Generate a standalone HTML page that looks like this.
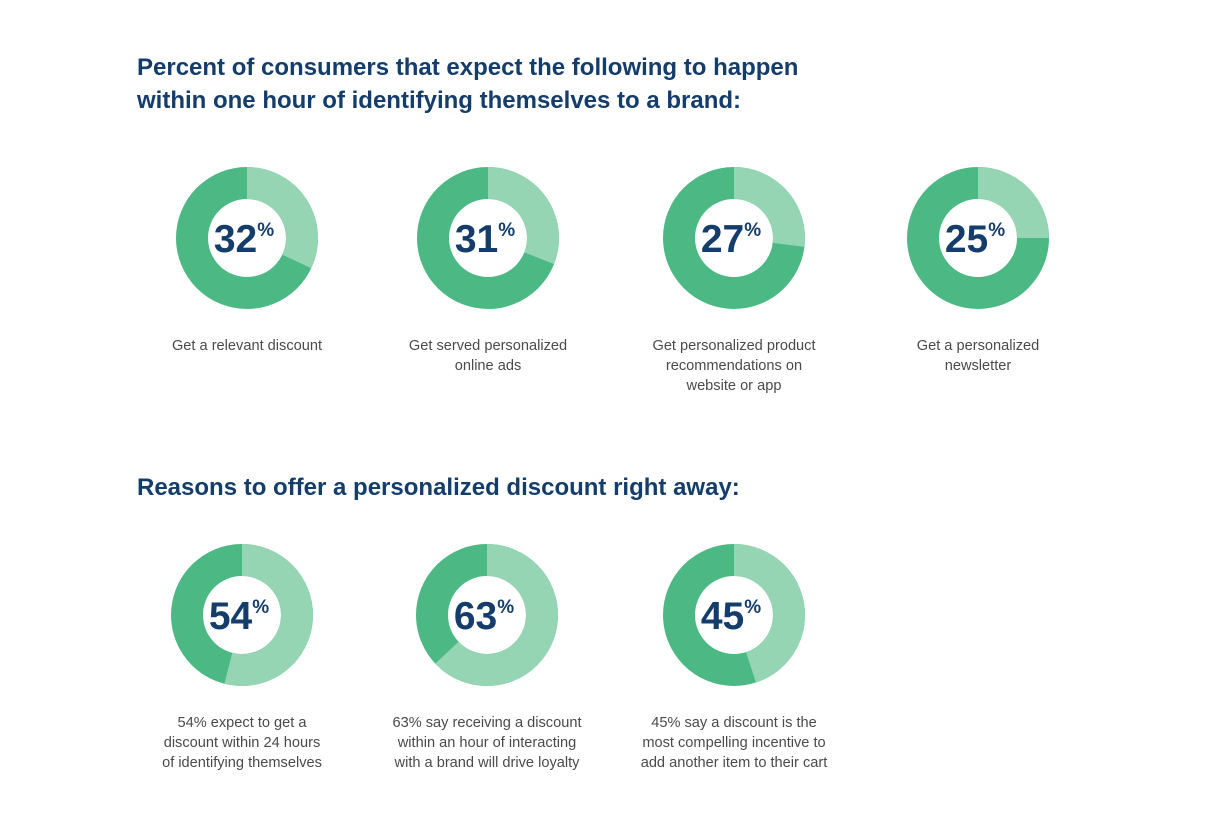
<!DOCTYPE html>
<html><head><meta charset="utf-8"><style>
body{margin:0;width:1222px;height:835px;background:#fff;font-family:"Liberation Sans",sans-serif;position:relative;overflow:hidden}
.t{position:absolute;left:137px;color:#143d6b;font-weight:bold;font-size:24px;line-height:33px;margin:0}
.lab{position:absolute;width:240px;text-align:center;color:#4a4a4a;font-size:14.6px;line-height:20px}
</style></head><body>
<h1 class="t" style="top:51px">Percent of consumers that expect the following to happen<br>within one hour of identifying themselves to a brand:</h1>
<h2 class="t" style="top:471px">Reasons to offer a personalized discount right away:</h2>
<svg id="s" width="1222" height="835" style="position:absolute;left:0;top:0"></svg>
<script>
const values1=[32,31,27,25];
const labels1=["Get a relevant discount","Get served personalized<br>online ads","Get personalized product<br>recommendations on<br>website or app","Get a personalized<br>newsletter"];
const values2=[54,63,45];
const labels2=["54% expect to get a<br>discount within 24 hours<br>of identifying themselves","63% say receiving a discount<br>within an hour of interacting<br>with a brand will drive loyalty","45% say a discount is the<br>most compelling incentive to<br>add another item to their cart"];
const cx1=[247,488,734,978],cx2=[242,487,734];
const svg=document.getElementById('s'),NS='http://www.w3.org/2000/svg';
function pt(cx,cy,r,p){const a=p/100*2*Math.PI;return [cx+r*Math.sin(a),cy-r*Math.cos(a)];}
function donut(cx,cy,v,lab,ly,i,row){
  const R=71,r=39;
  const g=document.createElementNS(NS,'g');
  
  
  const c=document.createElementNS(NS,'circle');
  c.setAttribute('cx',cx);c.setAttribute('cy',cy);c.setAttribute('r',(R+r)/2);
  c.setAttribute('fill','none');c.setAttribute('stroke','#4cb985');c.setAttribute('stroke-width',R-r);
  
  
  g.appendChild(c);
  const [x1,y1]=pt(cx,cy,R,0),[x2,y2]=pt(cx,cy,R,v),[x3,y3]=pt(cx,cy,r,v),[x4,y4]=pt(cx,cy,r,0);
  const big=v>50?1:0;
  const p=document.createElementNS(NS,'path');
  p.setAttribute('d',`M${x1},${y1}A${R},${R} 0 ${big} 1 ${x2},${y2}L${x3},${y3}A${r},${r} 0 ${big} 0 ${x4},${y4}Z`);
  p.setAttribute('fill','#95d5b3');
  
  
  g.appendChild(p);
  const t=document.createElementNS(NS,'text');
  t.setAttribute('x',cx-3);t.setAttribute('y',cy+14);t.setAttribute('text-anchor','middle');
  t.setAttribute('fill','#143d6b');t.setAttribute('font-weight','bold');t.setAttribute('font-size','39');
  t.setAttribute('font-family','Liberation Sans, sans-serif');
  
  
  t.innerHTML=v+'<tspan font-size="19" dy="-16">%</tspan>';
  g.appendChild(t);svg.appendChild(g);
  const d=document.createElement('div');d.className='lab';
  d.style.left=(cx-120)+'px';d.style.top=ly+'px';d.innerHTML=lab;
  
  
  document.body.appendChild(d);
}
values1.forEach((v,i)=>donut(cx1[i],238,v,labels1[i],336,i,1));
values2.forEach((v,i)=>donut(cx2[i],615,v,labels2[i],713,i,2));
</script>
</body></html>
